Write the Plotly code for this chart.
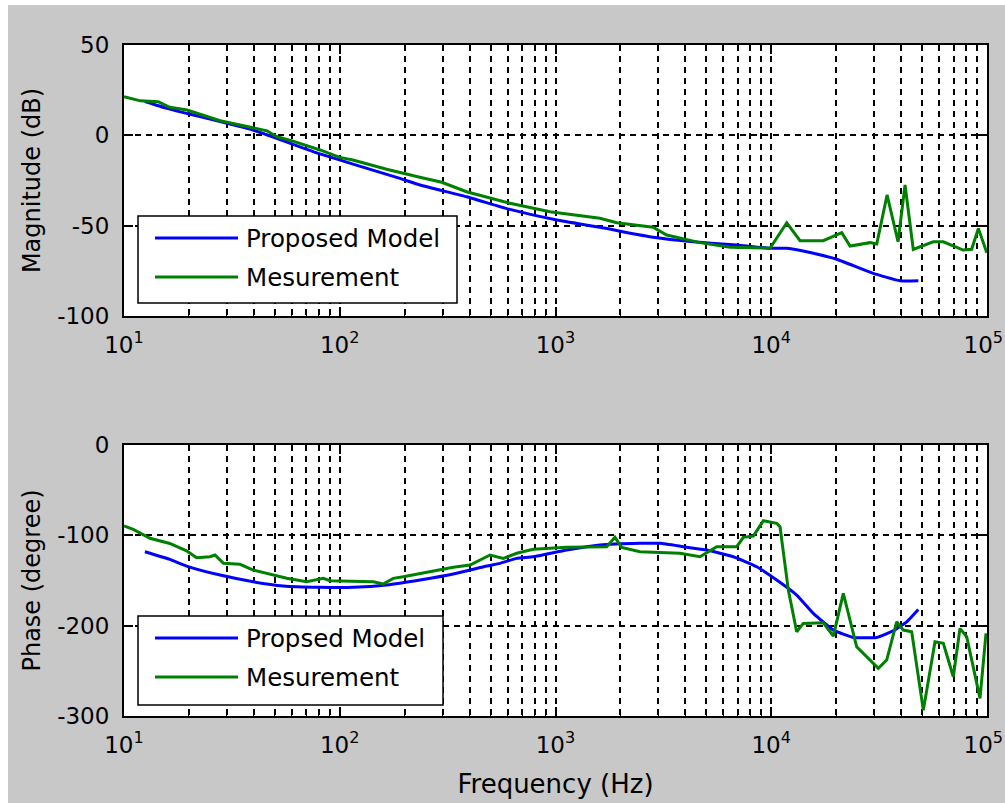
import plotly.graph_objects as go

# ---------------- data ----------------
# Magnitude – Proposed Model
mag_model_f = [12.5, 15.8, 39.6, 81, 190, 235.5, 387, 615, 1014, 1607, 2832, 4335,
               6920, 9866, 11800, 15680, 20100, 29700, 39500, 48100]
mag_model_db = [18.7, 14.9, 2.9, -10.3, -23.8, -27.5, -34.0, -41.0, -46.9, -50.9, -56.4, -58.9,
                -60.7, -62.5, -62.5, -65.3, -68.6, -76.4, -80.5, -80.5]

# Magnitude – Measurement
mag_meas_f = [10, 11.9, 14.4, 16.3, 19.6, 27.9, 39.6, 46, 51.2, 60.7, 81, 100, 115, 165, 235,
              297, 387, 615, 942, 1607, 1923, 2832, 3275, 4674, 6442, 9866, 11800, 13600,
              17420, 21220, 23190, 28700, 30830, 34420, 38700, 41700, 45530, 56350, 62700,
              77600, 84900, 91200, 99800]
mag_meas_db = [21.4, 19.1, 18.6, 15.5, 14.0, 8.1, 4.2, 2.5, -0.8, -3.2, -8.1, -12.2, -13.7,
               -18.8, -23.2, -26.0, -31.2, -37.6, -42.3, -45.9, -48.4, -50.9, -55.2, -59.4,
               -62.0, -62.5, -48.4, -58.3, -58.3, -53.9, -61.3, -59.4, -60.2, -33.0, -58.9,
               -27.5, -63.1, -58.9, -58.9, -63.5, -63.1, -51.5, -65.0]

# Phase – Proposed Model
ph_model_f = [12.5, 16.3, 19.5, 27.9, 39.7, 54.7, 81, 115.6, 165, 235.5, 336, 480, 553, 661,
              789, 1127, 1608, 2465, 3051, 3913, 5021, 6672, 8563, 10600, 13120, 15670,
              19400, 24010, 30820, 36780, 42450, 48040]
ph_model_deg = [-118.2, -126.6, -134.0, -144.0, -151.4, -156.1, -157.6, -157.6, -155.0, -149.5,
                -142.9, -134.0, -131.0, -125.5, -123.7, -116.3, -110.7, -108.9, -108.9,
                -112.6, -116.3, -123.7, -134.8, -149.5, -166.1, -186.4, -204.9, -213.0,
                -213.0, -205.6, -195.7, -182.0]

# Phase – Measurement
ph_meas_f = [10, 11.04, 13.2, 16.3, 19.5, 21.7, 25.0, 26.4, 28.9, 34.5, 39.7, 47.5, 56.8, 70.3,
             83.9, 90.1, 143, 159, 177, 197, 281.5, 336, 401.6, 497, 573, 661, 789, 1127,
             1727, 1887, 2027, 2465, 3777, 4675, 5588, 6918, 7422, 8260, 9191, 10600, 10980,
             12000, 13120, 14080, 17430, 19400, 21580, 24890, 31350, 34280, 38140, 40940,
             44760, 50680, 57410, 62730, 69800, 74960, 80500, 92800, 98950]
ph_meas_deg = [-89.7, -93.4, -103.3, -109.0, -117.1, -124.8, -123.7, -121.8, -131.0, -132.1,
               -138.4, -142.9, -147.6, -151.4, -147.6, -150.3, -151.4, -153.9, -147.6, -145.8,
               -138.4, -135.4, -132.9, -121.8, -125.5, -119.9, -115.5, -113.3, -112.6, -102.2,
               -113.3, -118.2, -119.9, -123.7, -112.6, -112.6, -102.2, -100.8, -83.8, -86.7,
               -90.5, -160.6, -206.7, -197.5, -196.8, -211.5, -164.3, -223.4, -247.3, -238.1,
               -195.7, -204.9, -206.7, -293.5, -217.8, -219.6, -256.6, -203.0, -212.3,
               -280.5, -208.5]

x_tick_vals = [10, 100, 1000, 10000, 100000]
# the last label carries a trailing no-break space so it stays inside the window
x_tick_text = ["10<sup>1</sup>", "10<sup>2</sup>", "10<sup>3</sup>", "10<sup>4</sup>",
               "10<sup>5</sup>\u00a0"]
mag_tick_vals = [-100, -50, 0, 50]
mag_tick_text = ["-100", "-50", "0", "50"]
ph_tick_vals = [-300, -200, -100, 0]
ph_tick_text = ["-300", "-200", "-100", "0"]

legend_top = ["Proposed Model", "Mesurement"]
legend_bot = ["Propsed Model", "Mesurement"]

# ---------------- layout geometry (pixels) ----------------
W, H = 1005, 803
L, R, T, B = 124, 987, 45, 716
TOP_AX_BOTTOM = 316
BOT_AX_TOP = 445

BLUE = "#0000ff"
GREEN = "#008000"
FONT = "DejaVu Sans"
GRAY = "#c8c8c8"


def px_x(p):
    return (p - L) / (R - L)


def px_y(p):
    return (B - p) / (B - T)


minor_vals = [m * 10 ** k for k in range(1, 5) for m in range(2, 10)]

fig = go.Figure()
fig.add_trace(go.Scatter(x=mag_model_f, y=mag_model_db, xaxis="x", yaxis="y", mode="lines",
                         name=legend_top[0],
                         line=dict(color=BLUE, width=3, shape="spline", smoothing=0.4)))
fig.add_trace(go.Scatter(x=mag_meas_f, y=mag_meas_db, xaxis="x", yaxis="y", mode="lines",
                         name=legend_top[1], line=dict(color=GREEN, width=3)))
fig.add_trace(go.Scatter(x=ph_model_f, y=ph_model_deg, xaxis="x2", yaxis="y2", mode="lines",
                         name=legend_bot[0],
                         line=dict(color=BLUE, width=3, shape="spline", smoothing=0.4)))
fig.add_trace(go.Scatter(x=ph_meas_f, y=ph_meas_deg, xaxis="x2", yaxis="y2", mode="lines",
                         name=legend_bot[1], line=dict(color=GREEN, width=3)))

grid_common = dict(showgrid=True, gridcolor="black", gridwidth=1.6, griddash="6px,5px")
axis_common = dict(showline=True, linecolor="black", linewidth=2, mirror="allticks",
                   ticks="inside", tickcolor="black", tickwidth=1.5, ticklen=9,
                   zeroline=False, automargin=False,
                   tickfont=dict(family=FONT, size=23, color="black"),
                   **grid_common)

xaxis_common = dict(type="log", range=[1, 5.000001], tickmode="array", tickvals=x_tick_vals,
                    ticktext=x_tick_text, ticklabelstandoff=7, ticklabeloverflow="allow",
                    minor=dict(tickmode="array", tickvals=minor_vals, ticks="inside", ticklen=5,
                               tickcolor="black", tickwidth=1.2, **grid_common),
                    **axis_common)

fig.update_layout(
    width=W, height=H,
    margin=dict(l=L, r=W - R, t=T, b=H - B, pad=0, autoexpand=False),
    paper_bgcolor=GRAY, plot_bgcolor="white",
    showlegend=False,
    font=dict(family=FONT, size=23, color="black"),
    xaxis=dict(domain=[0, 1], anchor="y", **xaxis_common),
    yaxis=dict(domain=[px_y(TOP_AX_BOTTOM), 1], anchor="x", range=[-100, 50],
               tickmode="array", tickvals=mag_tick_vals, ticktext=mag_tick_text,
               ticklabelstandoff=8,
               title=dict(text="Magnitude (dB)", font=dict(family=FONT, size=24), standoff=10),
               **axis_common),
    xaxis2=dict(domain=[0, 1], anchor="y2",
                title=dict(text="Frequency (Hz)", font=dict(family=FONT, size=26), standoff=18),
                **xaxis_common),
    yaxis2=dict(domain=[0, px_y(BOT_AX_TOP)], anchor="x2", range=[-300, 0],
                tickmode="array", tickvals=ph_tick_vals, ticktext=ph_tick_text,
                ticklabelstandoff=8,
                title=dict(text="Phase (degree)", font=dict(family=FONT, size=24), standoff=10),
                **axis_common),
)

shapes = [
    # thin white borders of the captured window (left and top)
    dict(type="rect", xref="paper", yref="paper", x0=px_x(0), x1=px_x(8), y0=px_y(H), y1=px_y(0),
         fillcolor="white", line=dict(width=0), layer="above"),
    dict(type="rect", xref="paper", yref="paper", x0=px_x(0), x1=px_x(W), y0=px_y(5), y1=px_y(0),
         fillcolor="white", line=dict(width=0), layer="above"),
]
annotations = []


def add_legend(box, rows, labels):
    x0, y0, x1, y1 = box
    shapes.append(dict(type="rect", xref="paper", yref="paper", x0=px_x(x0), x1=px_x(x1),
                       y0=px_y(y1), y1=px_y(y0), fillcolor="white",
                       line=dict(color="black", width=1.5), layer="above"))
    for yrow, col, lab in zip(rows, [BLUE, GREEN], labels):
        shapes.append(dict(type="line", xref="paper", yref="paper", x0=px_x(x0 + 17),
                           x1=px_x(x0 + 100), y0=px_y(yrow), y1=px_y(yrow),
                           line=dict(color=col, width=3), layer="above"))
        annotations.append(dict(xref="paper", yref="paper", x=px_x(x0 + 106), y=px_y(yrow),
                                xanchor="left", yanchor="middle", showarrow=False, text=lab,
                                font=dict(family=FONT, size=24.5, color="black")))


add_legend((138, 216, 457, 303), [238, 277], legend_top)
add_legend((138, 616, 443, 705), [638, 677], legend_bot)

fig.update_layout(shapes=shapes, annotations=annotations)

fig.write_html("out.html", config={"responsive": False})
